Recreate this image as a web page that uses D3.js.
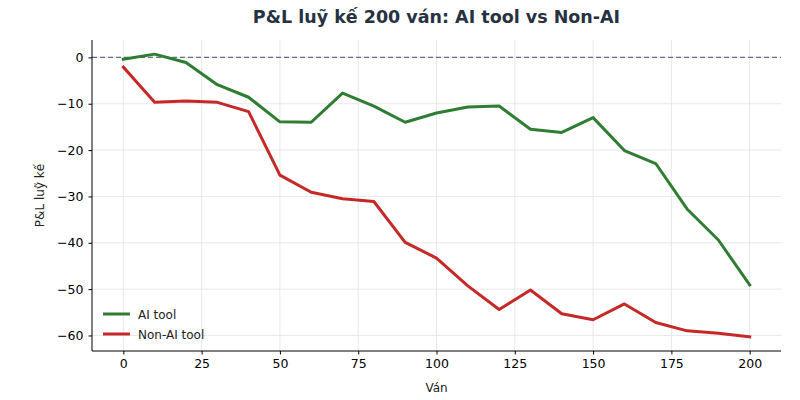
<!DOCTYPE html>
<html>
<head>
<meta charset="utf-8">
<script src="https://cdn.jsdelivr.net/npm/d3@7"></script>
<style>
  body { margin: 0; background: #fff; }
  svg text { font-family: "DejaVu Sans", sans-serif; }
</style>
</head>
<body>
<div id="chart"></div>
<script>
// rounds played (x) and cumulative P&L for each group
const rounds = [0, 10, 20, 30, 40, 50, 60, 70, 80, 90, 100, 110, 120, 130, 140, 150, 160, 170, 180, 190, 200];
const aiTool = [-0.4, 0.7, -1.1, -5.9, -8.6, -13.9, -14.0, -7.7, -10.5, -14.0, -12.0, -10.7, -10.5, -15.5, -16.2, -13.0, -20.1, -22.9, -32.7, -39.4, -49.1];
const nonAiTool = [-2.1, -9.7, -9.4, -9.7, -11.7, -25.4, -29.1, -30.5, -31.1, -39.9, -43.3, -49.3, -54.4, -50.2, -55.3, -56.6, -53.2, -57.2, -59.0, -59.5, -60.3];
const xTicks = [0, 25, 50, 75, 100, 125, 150, 175, 200];
const yTicks = [0, -10, -20, -30, -40, -50, -60];
const seriesNames = ["AI tool", "Non-AI tool"];
const colors = ["#2e7d32", "#c62828"];

const width = 800, height = 400;
const margin = { top: 40, right: 19, bottom: 49, left: 92 };
const innerW = width - margin.left - margin.right;
const innerH = height - margin.top - margin.bottom;

const svg = d3.select("#chart").append("svg")
  .attr("width", width)
  .attr("height", height);

// matplotlib-like 5% padding
const allY = aiTool.concat(nonAiTool);
const yMin = d3.min(allY), yMax = d3.max(allY);
const yPad = (yMax - yMin) * 0.05;
const x = d3.scaleLinear().domain([-10, 210]).range([0, innerW]);
const y = d3.scaleLinear().domain([yMin - yPad, yMax + yPad]).range([innerH, 0]);

const g = svg.append("g").attr("transform", `translate(${margin.left},${margin.top})`);

// grid
g.append("g").selectAll("line").data(xTicks).enter().append("line")
  .attr("x1", d => x(d)).attr("x2", d => x(d))
  .attr("y1", 0).attr("y2", innerH)
  .attr("stroke", "#e2e2e2").attr("stroke-width", 0.8);
g.append("g").selectAll("line").data(yTicks).enter().append("line")
  .attr("x1", 0).attr("x2", innerW)
  .attr("y1", d => y(d)).attr("y2", d => y(d))
  .attr("stroke", "#e2e2e2").attr("stroke-width", 0.8);

// zero reference line
g.append("line")
  .attr("x1", 0).attr("x2", innerW)
  .attr("y1", y(0)).attr("y2", y(0))
  .attr("stroke", "#5d7185").attr("stroke-width", 1.2)
  .attr("stroke-dasharray", "5,3");

// axes
const xAxis = g.append("g").attr("transform", `translate(0,${innerH})`)
  .call(d3.axisBottom(x).tickValues(xTicks).tickSize(3.5).tickPadding(5));
const yAxis = g.append("g")
  .call(d3.axisLeft(y).tickValues(yTicks).tickSize(3.5).tickPadding(5));
[xAxis, yAxis].forEach(a => {
  a.select(".domain").attr("stroke", "#000").attr("stroke-width", 1);
  a.selectAll(".tick line").attr("stroke", "#000");
  a.selectAll(".tick text").attr("fill", "#000")
    .style("font-size", "12.5px").style("font-family", "DejaVu Sans");
});
// trim domain end caps
xAxis.select(".domain").attr("d", `M0,0H${innerW}`);
yAxis.select(".domain").attr("d", `M0,0V${innerH}`);

// lines
const line = d3.line().x((d, i) => x(rounds[i])).y(d => y(d));
[aiTool, nonAiTool].forEach((s, i) => {
  g.append("path").datum(s)
    .attr("d", line)
    .attr("fill", "none")
    .attr("stroke", colors[i])
    .attr("stroke-width", 3)
    .attr("stroke-linejoin", "round")
    .attr("stroke-linecap", "square");
});

// legend
const legend = g.append("g").attr("transform", "translate(11,274)");
seriesNames.forEach((name, i) => {
  const row = legend.append("g").attr("transform", `translate(0,${i * 20})`);
  row.append("line").attr("x1", 0).attr("x2", 27).attr("y1", 0).attr("y2", 0)
    .attr("stroke", colors[i]).attr("stroke-width", 3);
  row.append("text").attr("x", 35).attr("y", 4.5)
    .style("font-size", "12px").attr("fill", "#222").text(name);
});

// title and axis labels
svg.append("text")
  .attr("x", margin.left + innerW / 2).attr("y", 23)
  .attr("text-anchor", "middle")
  .style("font-size", "17.5px").style("font-weight", "bold")
  .attr("fill", "#263241")
  .text("P&L luỹ kế 200 ván: AI tool vs Non-AI");

svg.append("text")
  .attr("x", margin.left + innerW / 2).attr("y", 392)
  .attr("text-anchor", "middle")
  .style("font-size", "12px").attr("fill", "#222")
  .text("Ván");

svg.append("text")
  .attr("transform", `translate(44,${margin.top + innerH / 2}) rotate(-90)`)
  .attr("text-anchor", "middle")
  .style("font-size", "12px").attr("fill", "#222")
  .text("P&L luỹ kế");
</script>
</body>
</html>
